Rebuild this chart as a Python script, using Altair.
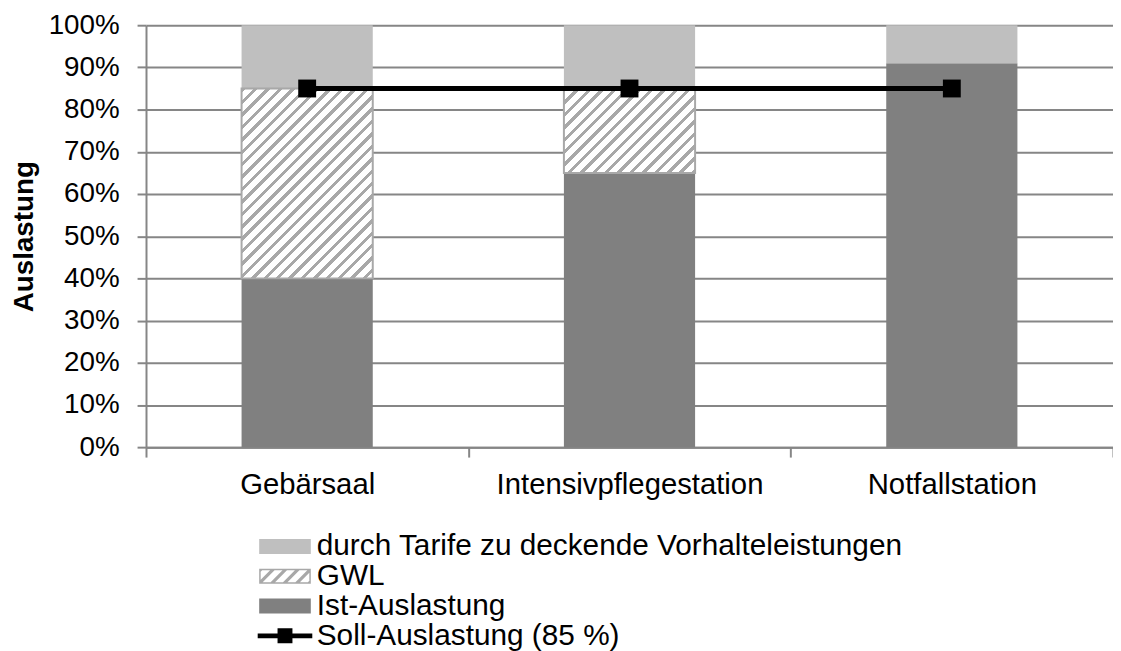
import altair as alt
import pandas as pd

# ---------------- data ----------------
categories = ["Gebärsaal", "Intensivpflegestation", "Notfallstation"]
ist = [0.40, 0.65, 0.91]
gwl = [0.45, 0.20, 0.00]
tarife = [0.15, 0.15, 0.09]
soll = [0.85, 0.85, 0.85]
series_names = [
    "durch Tarife zu deckende Vorhalteleistungen",
    "GWL",
    "Ist-Auslastung",
    "Soll-Auslastung (85 %)",
]
y_ticks = [0, 0.1, 0.2, 0.3, 0.4, 0.5, 0.6, 0.7, 0.8, 0.9, 1.0]

# ---------------- style ----------------
FONT = "Liberation Sans"
W, H = 974, 425
BAND_FRAC = 0.407
C_TARIFE = "#BFBFBF"
C_GWL = "#A8A8A8"
C_IST = "#808080"
C_SOLL = "#000000"
C_AXIS = "#868686"

# stacked segments built from the arrays
rows = []
for i, c in enumerate(categories):
    s = 0.0
    for name, vals in ((series_names[2], ist), (series_names[1], gwl), (series_names[0], tarife)):
        v = vals[i]
        rows.append({"category": c, "series": name, "start": s, "end": s + v})
        s += v
seg = pd.DataFrame(rows)
line_df = pd.DataFrame({"category": categories, "soll": soll})
legend_df = pd.DataFrame({"series": series_names})


def hatch_gradient(w, h, period=12.5, frac=0.36):
    """45deg '/' stripes as a hard-stop linear gradient over a w x h box."""
    S = w + h
    denom = w * w + h * h
    x2 = w * S / denom
    y2 = h * S / denom
    n = S / period
    stops = []
    k = 0
    while k < n:
        a = k / n
        b = min((k + frac) / n, 1.0)
        c = min((k + 1) / n, 1.0)
        stops += [
            {"offset": round(a, 5), "color": C_GWL},
            {"offset": round(b, 5), "color": C_GWL},
            {"offset": round(b, 5), "color": "#FFFFFF"},
            {"offset": round(c, 5), "color": "#FFFFFF"},
        ]
        k += 1
    return {"gradient": "linear", "x1": 0, "y1": 0, "x2": x2, "y2": y2, "stops": stops}


# ---------------- legend symbol paths ----------------
U = 14.0  # px per unit for symbol size 784


def fmt(v):
    return f"{v / U:.3f}"


def poly_path(pts):
    p = "M" + fmt(pts[0][0]) + "," + fmt(pts[0][1])
    for x, y in pts[1:]:
        p += "L" + fmt(x) + "," + fmt(y)
    return p + "Z"


def rect_path(x0, y0, x1, y1, ccw=False):
    if not ccw:
        pts = [(x0, y0), (x1, y0), (x1, y1), (x0, y1)]
    else:
        pts = [(x0, y0), (x0, y1), (x1, y1), (x1, y0)]
    return poly_path(pts)


def clip_poly(poly, xmin, xmax, ymin, ymax):
    def clip_edge(pts, inside, inter):
        out = []
        for j in range(len(pts)):
            cur = pts[j]
            prev = pts[j - 1]
            if inside(cur):
                if not inside(prev):
                    out.append(inter(prev, cur))
                out.append(cur)
            elif inside(prev):
                out.append(inter(prev, cur))
        return out

    def ix(xc):
        return lambda p, q: (xc, p[1] + (q[1] - p[1]) * (xc - p[0]) / (q[0] - p[0]))

    def iy(yc):
        return lambda p, q: (p[0] + (q[0] - p[0]) * (yc - p[1]) / (q[1] - p[1]), yc)

    pts = poly
    pts = clip_edge(pts, lambda p: p[0] >= xmin, ix(xmin)) if pts else pts
    pts = clip_edge(pts, lambda p: p[0] <= xmax, ix(xmax)) if pts else pts
    pts = clip_edge(pts, lambda p: p[1] >= ymin, iy(ymin)) if pts else pts
    pts = clip_edge(pts, lambda p: p[1] <= ymax, iy(ymax)) if pts else pts
    return pts


SW, SH = 26.0, 7.5
swatch = rect_path(-SW, -SH, SW, SH)
# hatched swatch: frame + stripes
fr = 1.5
hatch_sym = rect_path(-SW, -SH, SW, SH) + rect_path(-SW + fr, -SH + fr, SW - fr, SH - fr, ccw=True)
period, sw = 12.5, 4.5
c = -SW - SH - period
while c < SW + SH + period:
    band = [(c + 60, -60), (c + sw + 60, -60), (c + sw - 60, 60), (c - 60, 60)]
    cl = clip_poly(band, -SW + fr, SW - fr, -SH + fr, SH - fr)
    if len(cl) >= 3:
        hatch_sym += poly_path(cl)
    c += period
# line with square marker
LW, LT, SQ = 27.5, 2.4, 7.5
soll_sym = poly_path([
    (-LW, -LT), (-SQ, -LT), (-SQ, -SQ), (SQ, -SQ), (SQ, -LT), (LW, -LT),
    (LW, LT), (SQ, LT), (SQ, SQ), (-SQ, SQ), (-SQ, LT), (-LW, LT),
])

legend_colors = alt.Scale(domain=series_names, range=[C_TARIFE, C_GWL, C_IST, C_SOLL])
shape_scale = alt.Scale(domain=series_names, range=[swatch, hatch_sym, swatch, soll_sym])

# ---------------- encodings ----------------
x_enc = alt.X(
    "category:N",
    sort=categories,
    scale=alt.Scale(paddingInner=0, paddingOuter=0),
    axis=alt.Axis(
        title=None,
        labelAngle=0,
        labelFontSize=29.5,
        labelPadding=14,
        labelLimit=1000,
        tickSize=10,
        tickBand="extent",
        grid=False,
    ),
)
y_axis = alt.Axis(
    title="Auslastung",
    values=y_ticks,
    format=".0%",
    grid=True,
    tickSize=9,
    labelPadding=18,
    labelFontSize=28,
    titleFontSize=28,
    titleFontWeight="bold",
    titleAngle=-90,
    titleX=-114,
    titleY=H / 2,
    titleAlign="center",
    titleBaseline="alphabetic",
)
y_scale = alt.Scale(domain=[0, 1])


def solid_layer(series, color):
    return (
        alt.Chart(seg)
        .transform_filter(alt.datum.series == series)
        .mark_bar(width=alt.RelativeBandSize(BAND_FRAC), color=color)
        .encode(
            x=x_enc,
            y=alt.Y("start:Q", scale=y_scale, axis=y_axis),
            y2="end:Q",
        )
    )


ist_bars = solid_layer(series_names[2], C_IST)
tarife_bars = solid_layer(series_names[0], C_TARIFE)

hatch_layers = []
for i, cat in enumerate(categories):
    if gwl[i] <= 0:
        continue
    w = BAND_FRAC * W / len(categories)
    h = gwl[i] * H
    hatch_layers.append(
        alt.Chart(seg)
        .transform_filter((alt.datum.series == "GWL") & (alt.datum.category == cat))
        .mark_bar(
            width=alt.RelativeBandSize(BAND_FRAC),
            fill=hatch_gradient(w, h),
            stroke=C_GWL,
            strokeWidth=2,
        )
        .encode(
            x=x_enc,
            y=alt.Y("start:Q", scale=y_scale, axis=y_axis),
            y2="end:Q",
        )
    )

line = (
    alt.Chart(line_df)
    .mark_line(
        color=C_SOLL,
        strokeWidth=5,
        point=alt.OverlayMarkDef(shape="square", size=324, filled=True, color=C_SOLL, opacity=1),
    )
    .encode(
        x=x_enc,
        y=alt.Y("soll:Q", scale=y_scale, axis=y_axis),
    )
)

legend = alt.Legend(
    orient="none",
    legendX=125,
    legendY=510,
    title=None,
    labelFont=FONT,
    labelFontSize=30,
    labelColor="#000000",
    labelLimit=1000,
    labelOffset=17,
    rowPadding=0,
    padding=0,
    symbolSize=784,
    symbolStrokeWidth=0,
    symbolOpacity=1,
)

legend_layer = (
    alt.Chart(legend_df)
    .mark_point(filled=True, size=784, opacity=1)
    .encode(
        color=alt.Color("series:N", scale=legend_colors, legend=legend),
        shape=alt.Shape("series:N", scale=shape_scale, legend=legend),
        opacity=alt.value(0),
    )
)

chart = (
    alt.layer(ist_bars, tarife_bars, *hatch_layers, line, legend_layer)
    .properties(
        width=W,
        height=H,
        autosize=alt.AutoSizeParams(type="none"),
        padding={"left": 139, "top": 15, "right": 0, "bottom": 203},
    )
    .configure(font=FONT)
    .configure_axis(
        labelFont=FONT,
        titleFont=FONT,
        labelColor="#000000",
        titleColor="#000000",
        domainColor=C_AXIS,
        domainWidth=2,
        tickColor=C_AXIS,
        tickWidth=2,
        gridColor=C_AXIS,
        gridWidth=2,
    )
    .configure_view(strokeWidth=0)
)

chart.save("out.html", embed_options={"renderer": "svg", "actions": False})
